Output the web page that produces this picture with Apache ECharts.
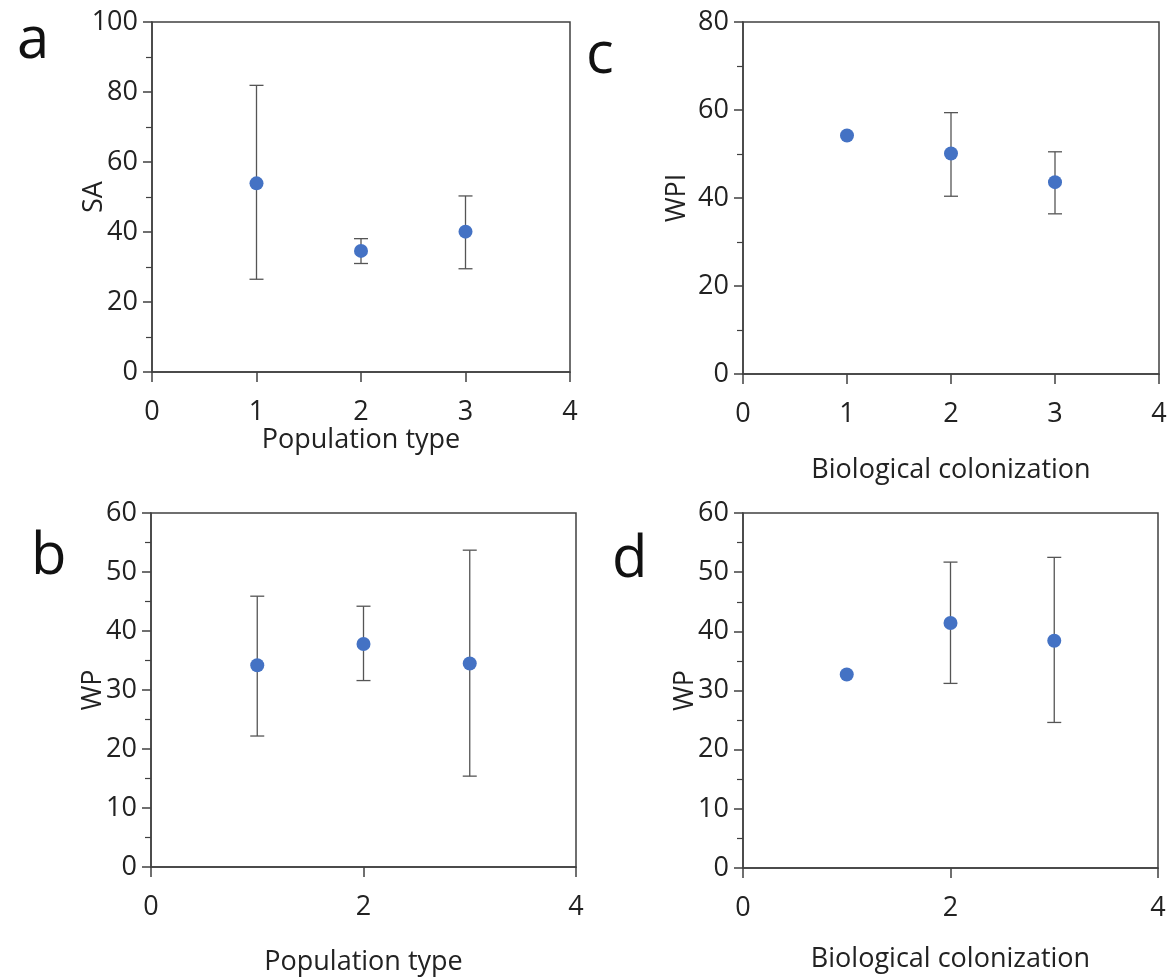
<!DOCTYPE html>
<html>
<head>
<meta charset="utf-8">
<script src="https://cdn.jsdelivr.net/npm/echarts@6/dist/echarts.min.js"></script>
<style>
  html, body { margin: 0; padding: 0; background: #fff; }
  #main { width: 1173px; height: 978px; }
</style>
</head>
<body>
<div id="main"></div>
<script>
// x positions of the three groups
var groups = [1, 2, 3];

// a: SA by population type
var saMean = [53.9, 34.6, 40.1];
var saLow  = [26.5, 31.0, 29.5];
var saHigh = [81.9, 38.1, 50.3];

// b: WP by population type
var wpPopMean = [34.2, 37.8, 34.5];
var wpPopLow  = [22.2, 31.6, 15.4];
var wpPopHigh = [45.9, 44.2, 53.7];

// c: WPI by biological colonization (group 1 has no error bar)
var wpiMean = [54.2, 50.1, 43.6];
var wpiLow  = [null, 40.4, 36.4];
var wpiHigh = [null, 59.4, 50.5];

// d: WP by biological colonization
var wpColMean = [32.7, 41.4, 38.4];
var wpColLow  = [null, 31.2, 24.6];
var wpColHigh = [null, 51.7, 52.5];

var font = 'Open Sans';
var axisColor = '#404040';
var dotColor = '#4472c4';

function points(mean) {
  return groups.map(function (g, i) { return [g, mean[i]]; });
}
function bars(low, high) {
  var out = [];
  groups.forEach(function (g, i) {
    if (low[i] != null && high[i] != null) out.push([g, low[i], high[i]]);
  });
  return out;
}

function xAx(idx, interval, name, gap) {
  return {
    gridIndex: idx, type: 'value', min: 0, max: 4, interval: interval,
    name: name, nameLocation: 'middle', nameGap: gap, nameMoveOverlap: false,
    nameTextStyle: { fontFamily: font, fontSize: 27, color: '#222' },
    axisLine: { show: true, onZero: false, lineStyle: { color: axisColor, width: 1.5 } },
    axisTick: { show: true, inside: false, length: 10, lineStyle: { color: axisColor, width: 1.5 } },
    axisLabel: { fontFamily: font, fontSize: 27, color: '#222', margin: 27 },
    splitLine: { show: false }
  };
}
function yAx(idx, max, interval, name, gap) {
  return {
    gridIndex: idx, type: 'value', min: 0, max: max, interval: interval,
    name: name, nameLocation: 'middle', nameGap: gap, nameRotate: 90, nameMoveOverlap: false,
    nameTextStyle: { fontFamily: font, fontSize: 27, color: '#222' },
    axisLine: { show: true, onZero: false, lineStyle: { color: axisColor, width: 1.5 } },
    axisTick: { show: true, inside: false, length: 9, lineStyle: { color: axisColor, width: 1.5 } },
    minorTick: { show: true, splitNumber: 2, length: 6, lineStyle: { color: axisColor, width: 1.2 } },
    axisLabel: { fontFamily: font, fontSize: 27, color: '#222', margin: 14 },
    splitLine: { show: false }
  };
}

function errorSeries(idx, data) {
  return {
    type: 'custom', xAxisIndex: idx, yAxisIndex: idx, z: 1,
    encode: { x: 0, y: [1, 2] },
    data: data,
    renderItem: function (params, api) {
      var x = api.value(0);
      var lo = api.coord([x, api.value(1)]);
      var hi = api.coord([x, api.value(2)]);
      var half = 7;
      var st = { stroke: '#555', lineWidth: 1.3 };
      return {
        type: 'group',
        children: [
          { type: 'line', shape: { x1: lo[0], y1: lo[1], x2: hi[0], y2: hi[1] }, style: st },
          { type: 'line', shape: { x1: hi[0] - half, y1: hi[1], x2: hi[0] + half, y2: hi[1] }, style: st },
          { type: 'line', shape: { x1: lo[0] - half, y1: lo[1], x2: lo[0] + half, y2: lo[1] }, style: st }
        ]
      };
    }
  };
}
function dotSeries(idx, data) {
  return {
    type: 'scatter', xAxisIndex: idx, yAxisIndex: idx, z: 3,
    symbol: 'circle', symbolSize: 14,
    itemStyle: { color: dotColor, opacity: 1 },
    data: data
  };
}

function letter(txt, x, y) {
  return {
    type: 'text', left: x, top: y,
    style: { text: txt, fontFamily: font, fontSize: 58, fill: '#111' }
  };
}

var gridStyle = { show: true, borderColor: axisColor, borderWidth: 1.5, backgroundColor: 'transparent' };

var myechart = echarts.init(document.getElementById('main'));
myechart.setOption({
  animation: false,
  backgroundColor: '#fff',
  grid: [
    Object.assign({ left: 152, top: 22, width: 418, height: 350 }, gridStyle),
    Object.assign({ left: 151, top: 513, width: 425, height: 354 }, gridStyle),
    Object.assign({ left: 743, top: 22, width: 416, height: 352 }, gridStyle),
    Object.assign({ left: 743, top: 513, width: 415, height: 355 }, gridStyle)
  ],
  xAxis: [
    xAx(0, 1, 'Population type', 55),
    xAx(1, 2, 'Population type', 82),
    xAx(2, 1, 'Biological colonization', 83),
    xAx(3, 2, 'Biological colonization', 78)
  ],
  yAxis: [
    yAx(0, 100, 20, 'SA', 44),
    yAx(1, 60, 10, 'WP', 44),
    yAx(2, 80, 20, 'WPI', 52),
    yAx(3, 60, 10, 'WP', 44)
  ],
  graphic: [
    letter('a', 17, 12),
    letter('b', 31, 528),
    letter('c', 586, 27),
    letter('d', 612, 531)
  ],
  series: [
    errorSeries(0, bars(saLow, saHigh)),
    dotSeries(0, points(saMean)),
    errorSeries(1, bars(wpPopLow, wpPopHigh)),
    dotSeries(1, points(wpPopMean)),
    errorSeries(2, bars(wpiLow, wpiHigh)),
    dotSeries(2, points(wpiMean)),
    errorSeries(3, bars(wpColLow, wpColHigh)),
    dotSeries(3, points(wpColMean))
  ]
});
</script>
</body>
</html>
